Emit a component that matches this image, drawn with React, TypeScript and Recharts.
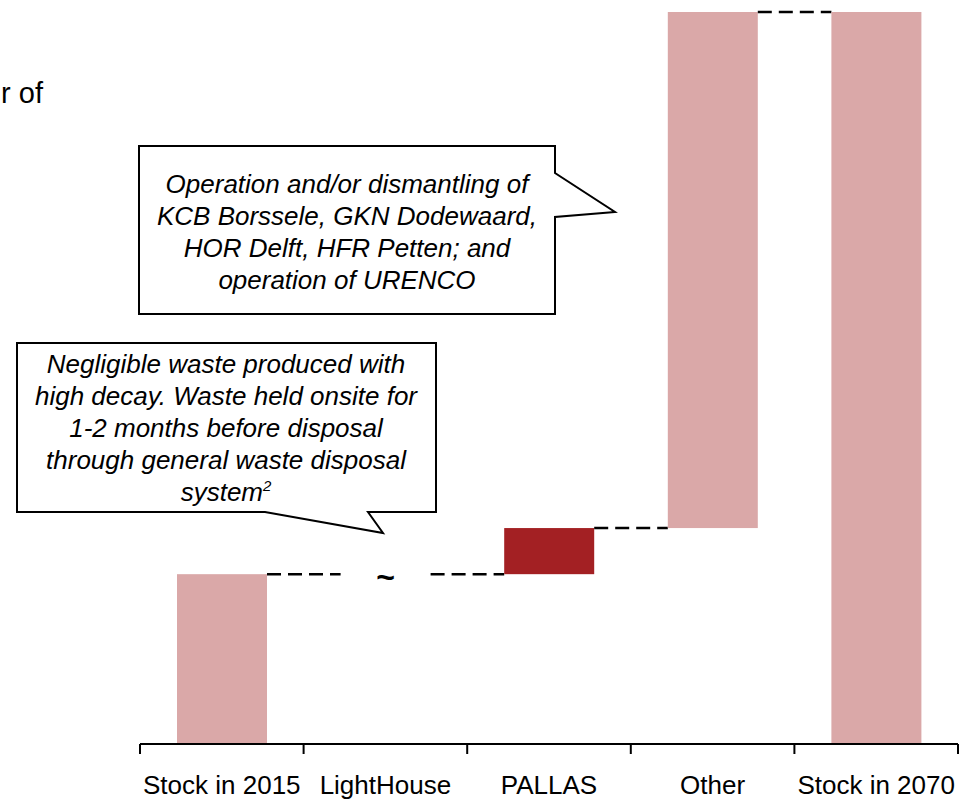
import React from 'react';
import { BarChart, Bar, XAxis, YAxis, Cell } from 'recharts';

// waterfall: invisible base + visible step
const categories = ['Stock in 2015', 'LightHouse', 'PALLAS', 'Other', 'Stock in 2070'];
const baseValues = [0, 23.2, 23.2, 29.5, 0];
const stepValues = [23.2, 0, 6.3, 70.5, 100];

const PINK = '#DAA8A8';
const RED = '#A32023';
const barColors = [PINK, PINK, RED, PINK, PINK];

const calloutTop = [
  'Operation and/or dismantling of',
  'KCB Borssele, GKN Dodewaard,',
  'HOR Delft, HFR Petten; and',
  'operation of URENCO',
];
const calloutBottom = [
  'Negligible waste produced with',
  'high decay. Waste held onsite for',
  '1-2 months before disposal',
  'through general waste disposal',
];

const data = categories.map((name, i) => ({ name, base: baseValues[i], value: stepValues[i] }));

const W = 965;
const H = 799;
const MARGIN = { top: 12, right: 7, left: 140, bottom: 5 };
const BAND = (W - MARGIN.left - MARGIN.right) / categories.length;
const BAR = 90;
const GAP = BAND - BAR;
const FONT = '"Liberation Sans", Arial, sans-serif';

const StepShape = (props: any) => {
  const { x, y, width, height, index } = props;
  const last = index === categories.length - 1;
  const zero = stepValues[index] === 0;
  return (
    <g>
      {height > 0 && <rect x={x} y={y} width={width} height={height} fill={barColors[index]} />}
      {zero && (
        <text
          x={x + width / 2}
          y={y + 14}
          textAnchor="middle"
          fontSize={32}
          fontWeight="bold"
          fontFamily={FONT}
          fill="#000"
        >
          ~
        </text>
      )}
      {!last && (
        <line
          x1={x + width}
          x2={x + width + GAP}
          y1={y}
          y2={y}
          stroke="#000"
          strokeWidth={2.4}
          strokeDasharray="14 7"
        />
      )}
    </g>
  );
};

const AxisTick = (props: any) => {
  const { x, y, payload, index } = props;
  const last = index === categories.length - 1;
  return (
    <g>
      <line x1={x - BAND / 2} x2={x - BAND / 2} y1={y} y2={y + 10} stroke="#000" strokeWidth={2} />
      {last && <line x1={x + BAND / 2} x2={x + BAND / 2} y1={y} y2={y + 10} stroke="#000" strokeWidth={2} />}
      <text x={x} y={y + 50} textAnchor="middle" fontSize={26} fontFamily={FONT} fill="#000">
        {payload.value}
      </text>
    </g>
  );
};

export default function App() {
  return (
    <div style={{ position: 'absolute', left: 0, top: 0, width: W, height: H, background: '#fff' }}>
      <BarChart width={W} height={H} data={data} margin={MARGIN} barSize={BAR}>
        <XAxis
          dataKey="name"
          interval={0}
          height={50}
          tickSize={0}
          tickMargin={0}
          tickLine={false}
          axisLine={{ stroke: '#000', strokeWidth: 2 }}
          tick={<AxisTick />}
        />
        <YAxis hide domain={[0, 100]} />
        <Bar dataKey="base" stackId="w" fill="transparent" isAnimationActive={false} />
        <Bar dataKey="value" stackId="w" shape={<StepShape />} isAnimationActive={false}>
          {data.map((_, i) => (
            <Cell key={`c-${i}`} fill={barColors[i]} />
          ))}
        </Bar>
      </BarChart>

      <svg
        width={W}
        height={H}
        style={{ position: 'absolute', left: 0, top: 0, pointerEvents: 'none' }}
        fontFamily={FONT}
      >
        <text x={43} y={103} textAnchor="end" fontSize={29} fill="#000">
          r of
        </text>

        <path
          d="M139,146 L555,146 L555,173 L615,212 L555,217 L555,314 L139,314 Z"
          fill="#fff"
          stroke="#000"
          strokeWidth={2}
        />
        {calloutTop.map((line, i) => (
          <text key={line} x={347} y={193 + i * 32} textAnchor="middle" fontSize={26} fontStyle="italic" fill="#000">
            {line}
          </text>
        ))}

        <path
          d="M17,343 L436,343 L436,512 L368,512 L383,533 L265,512 L17,512 Z"
          fill="#fff"
          stroke="#000"
          strokeWidth={2}
        />
        {calloutBottom.map((line, i) => (
          <text key={line} x={226} y={373 + i * 32} textAnchor="middle" fontSize={26} fontStyle="italic" fill="#000">
            {line}
          </text>
        ))}
        <text x={226} y={373 + 4 * 32} textAnchor="middle" fontSize={26} fontStyle="italic" fill="#000">
          <tspan>system</tspan>
          <tspan fontSize={15} dy={-10}>
            2
          </tspan>
        </text>
      </svg>
    </div>
  );
}
